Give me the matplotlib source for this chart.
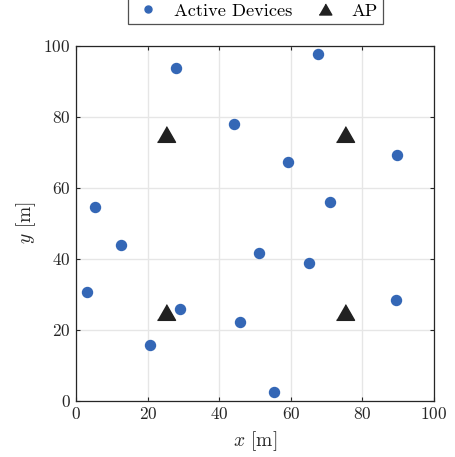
import matplotlib
matplotlib.use('Agg')
import matplotlib.pyplot as plt

plt.rcParams['font.family'] = 'serif'
plt.rcParams['font.serif'] = ['cmr10']
plt.rcParams['mathtext.fontset'] = 'cm'
plt.rcParams['axes.formatter.use_mathtext'] = True

# Active device positions [m]
dev_x = [27.9, 44.0, 5.1, 67.7, 59.1, 89.7, 70.9, 12.6, 3.0, 29.1, 45.7, 20.7, 51.1, 65.0, 89.4, 55.2]
dev_y = [93.6, 77.9, 54.4, 97.5, 67.2, 69.3, 55.9, 43.9, 30.6, 25.9, 22.2, 15.6, 41.5, 38.8, 28.3, 2.3]

# Access point positions [m]
ap_x = [25, 75, 25, 75]
ap_y = [75, 75, 25, 25]

ticks = [0, 20, 40, 60, 80, 100]
axis_col = '#262626'
tri = [(-1, -0.87), (1, -0.87), (0, 0.87)]  # MATLAB-like triangle

fig = plt.figure(figsize=(4.55, 4.57), dpi=100)
ax = fig.add_axes([76.3 / 455, 1 - 400.6 / 457, 357.7 / 455, 355 / 457])

ax.plot(dev_x, dev_y, 'o', color='#3467b6', markersize=7.2, linestyle='none',
        label='Active Devices', zorder=3)
ax.plot(ap_x, ap_y, marker=tri, color='#212121', markersize=13, linestyle='none',
        label='AP', zorder=3)

ax.set_xlim(0, 100)
ax.set_ylim(0, 100)
ax.set_xticks(ticks)
ax.set_yticks(ticks)
ax.grid(True, color='#e6e6e6', linewidth=1.0)
ax.set_axisbelow(True)
ax.tick_params(direction='in', length=3, width=0.8, top=True, right=True,
               colors=axis_col, labelsize=12.5, pad=4)
for s in ax.spines.values():
    s.set_color(axis_col)
    s.set_linewidth(0.9)

ax.set_xlabel('$x$ [m]', fontsize=14, color=axis_col, labelpad=5)
ax.set_ylabel('$y$ [m]', fontsize=14, color=axis_col, labelpad=4)

handles, labels = ax.get_legend_handles_labels()
leg = fig.legend(handles, labels, loc='lower center',
                 bbox_to_anchor=(255.5 / 455, 1 - 24 / 457), borderaxespad=0,
                 ncol=2, fontsize=13.2, frameon=True, fancybox=False,
                 edgecolor=axis_col, handlelength=1.6, handletextpad=0.6,
                 columnspacing=1.0, borderpad=0.3, markerscale=0.7)
leg.get_frame().set_linewidth(0.9)

plt.savefig('out.png', dpi=100)
